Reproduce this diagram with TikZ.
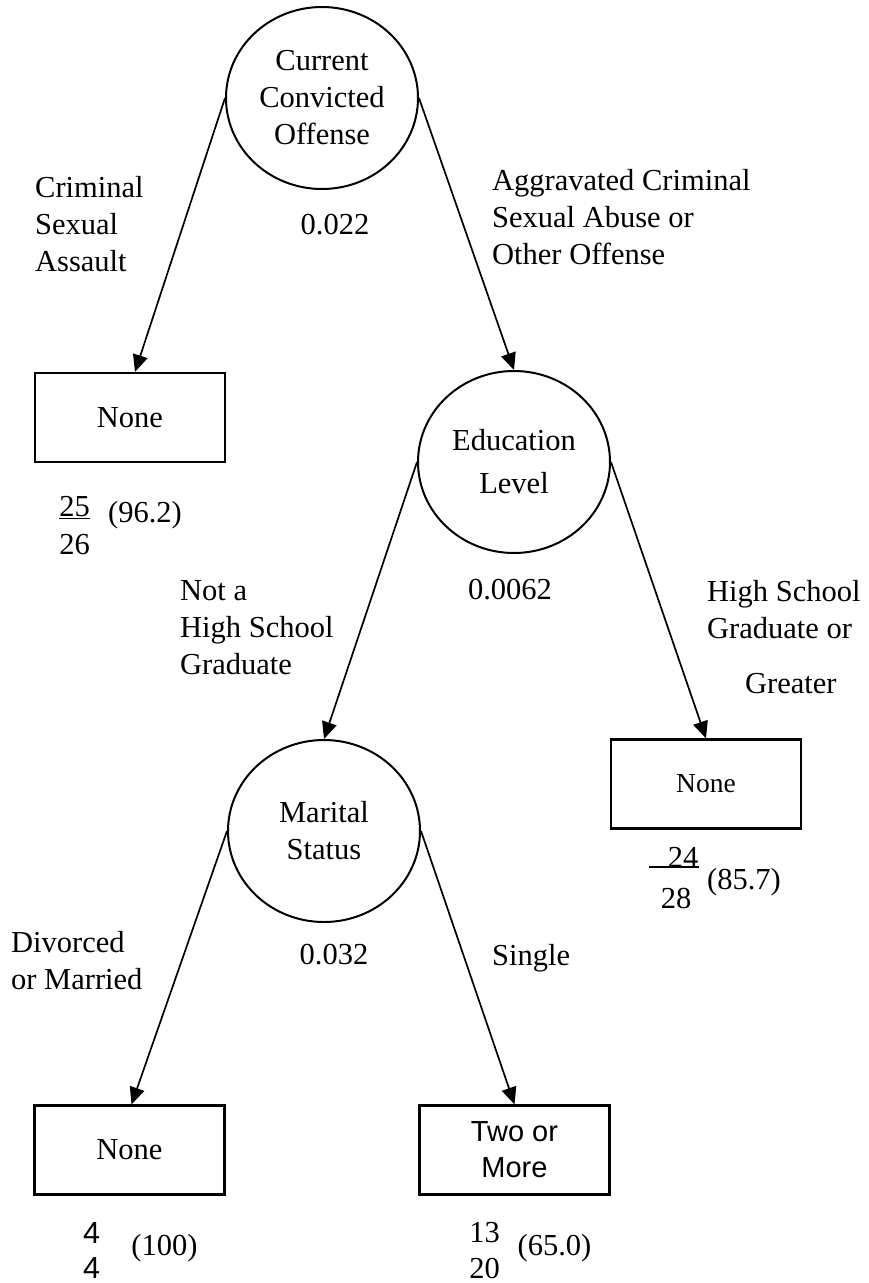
\documentclass[tikz,border=0pt]{standalone}
\usepackage{fontspec}
\setmainfont{Liberation Serif}
\setsansfont{Liberation Sans}
\usetikzlibrary{shapes.geometric,arrows.meta}
\begin{document}
\begin{tikzpicture}[x=1pt,y=-1pt,
  txt/.style={inner sep=0pt,font=\fontsize{30.5}{37}\selectfont},
  lbl/.style={txt,align=left,anchor=west},
  split/.style={ellipse,draw,line width=2pt,minimum width=192pt,minimum height=182pt,
     inner sep=0pt,align=center,font=\fontsize{30.5}{37}\selectfont},
  leaf/.style={rectangle,draw,line width=2.2pt,minimum width=190pt,minimum height=89pt,
     inner sep=0pt,align=center,font=\fontsize{30.5}{37}\selectfont},
  arr/.style={line width=1.7pt,-{Triangle[length=17pt,width=15pt]}}]
\useasboundingbox (0,0) rectangle (869,1283);

% decision nodes
\node[split] (c1) at (322,98) {Current\\Convicted\\Offense};
\node[split] (c2) at (514,462) {Education\\[6pt]Level};
\node[split] (c3) at (324,831) {Marital\\Status};

% terminal nodes
\node[leaf] (b1) at (130,417.5) {None};
\node[leaf,font=\fontsize{27.5}{33}\selectfont] (b2) at (706,784) {None};
\node[leaf] (b3) at (129.5,1150) {None};
\node[leaf,font=\sffamily\fontsize{29}{36}\selectfont] (b4) at (514.5,1150) {Two or\\More};

% branches
\draw[arr] (c1.west) -- ([xshift=5pt]b1.north);
\draw[arr] (c1.east) -- (c2.north);
\draw[arr] (c2.west) -- (c3.north);
\draw[arr] (c2.east) -- (b2.north);
\draw[arr] (c3.west) -- ([xshift=2pt]b3.north);
\draw[arr] (c3.east) -- (b4.north);

% branch labels and p-values
\node[lbl] (l1) at (35,224) {Criminal\\Sexual\\Assault};
\node[txt] (p1) at (335,225) {0.022};
\node[lbl] (l2) at (492,217) {Aggravated Criminal\\Sexual Abuse or\\Other Offense};
\node[lbl] (l3) at (180,628) {Not a\\High School\\Graduate};
\node[txt] (p2) at (510,590) {0.0062};
\node[lbl] (l4) at (707,637) {High School\\Graduate or\\[18pt]\hspace*{38pt}Greater};
\node[lbl] (l5) at (11,960.5) {Divorced\\or Married};
\node[txt] (p3) at (334,955) {0.032};
\node[lbl] (l6) at (492,958) {Single};

% counts under the terminal nodes
\node[txt] (n1a) at (74.5,508) {\underline{25}};
\node[txt] (n1b) at (74.5,545) {26};
\node[txt] (n1c) at (145,515) {(96.2)};

\node[txt] (n2a) at (683,857) {24};
\draw[line width=1.6pt] (649,867) -- (699,867);
\node[txt] (n2b) at (676,898) {28};
\node[txt] (n2c) at (744,882) {(85.7)};

\node[txt,font=\sffamily\fontsize{30.5}{37}\selectfont] (n3a) at (91.5,1233) {4};
\node[txt,font=\sffamily\fontsize{30.5}{37}\selectfont] (n3b) at (91.5,1268) {4};
\node[txt] (n3c) at (164.5,1248) {(100)};

\node[txt] (n4a) at (484.5,1233) {13};
\node[txt] (n4b) at (484.5,1268) {20};
\node[txt] (n4c) at (554.5,1248) {(65.0)};
\end{tikzpicture}
\end{document}
